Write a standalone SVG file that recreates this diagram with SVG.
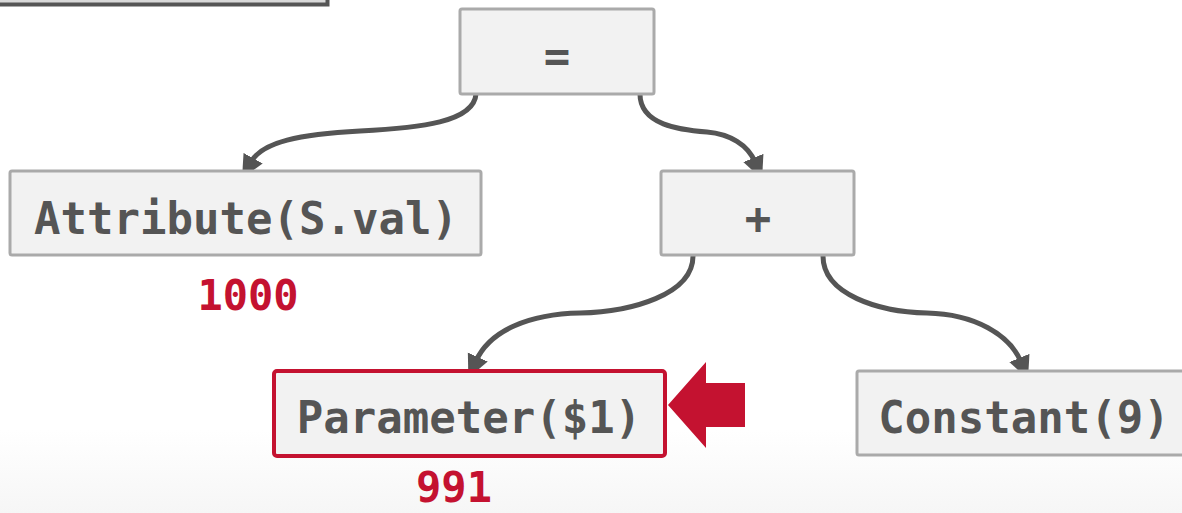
<svg xmlns="http://www.w3.org/2000/svg" width="1182" height="513" viewBox="0 0 1182 513">
  <defs>
    <linearGradient id="bg" x1="0" y1="0" x2="0" y2="1">
      <stop offset="0" stop-color="#ffffff"/>
      <stop offset="1" stop-color="#f6f6f6"/>
    </linearGradient>
    <marker id="ah" markerUnits="userSpaceOnUse" markerWidth="24" markerHeight="24" refX="4" refY="10" orient="auto" viewBox="0 0 22 20">
      <path d="M0,0 L21,10 L0,20 z" fill="#555"/>
    </marker>
    <style>
      .box { fill: #f2f2f2; stroke: #aaaaaa; stroke-width: 3; }
      .hl { fill: #f2f2f2; stroke: #c41230; stroke-width: 4; }
      .lbl { font-family: "DejaVu Sans Mono", "Liberation Mono", monospace; font-size: 44px; font-weight: bold; fill: #555; text-anchor: middle; }
      .val { font-family: "DejaVu Sans Mono", "Liberation Mono", monospace; font-size: 42px; font-weight: bold; fill: #c41230; text-anchor: middle; }
      .edge { fill: none; stroke: #555; stroke-width: 5; marker-end: url(#ah); }
    </style>
  </defs>
  <rect x="0" y="0" width="1182" height="513" fill="#ffffff"/>
  <rect x="0" y="430" width="1182" height="83" fill="url(#bg)"/>

  <rect x="-10" y="-50" width="337.5" height="54.5" fill="#d9d9d9" stroke="#555" stroke-width="4"/>

  <g id="connectors">
    <path class="edge" d="M476,94 C474,122 420,128 360,131 C300,134 262,142 251,162"/>
    <path class="edge" d="M640,94 C640,125 680,130 707,132 C730,134 748,145 755,162"/>
    <path class="edge" d="M693,255 C694,295 630,312 580,313 C530,314 490,330 476,361"/>
    <path class="edge" d="M823,255 C822,295 880,312 927,313 C975,314 1010,335 1021,362"/>
  </g>

  <g id="node-eq">
    <rect class="box" x="460" y="9" width="194" height="85" rx="2"/>
    <text class="lbl" x="557" y="71">=</text>
  </g>
  <g id="node-attr">
    <rect class="box" x="10" y="171" width="471" height="84" rx="2"/>
    <text class="lbl" x="246" y="234">Attribute(S.val)</text>
  </g>
  <text class="val" x="248" y="310">1000</text>
  <g id="node-plus">
    <rect class="box" x="661" y="171" width="193" height="84" rx="2"/>
    <text class="lbl" x="758" y="234">+</text>
  </g>
  <g id="node-param">
    <rect class="hl" x="274" y="371" width="391" height="85" rx="3"/>
    <text class="lbl" x="469" y="433">Parameter($1)</text>
  </g>
  <text class="val" x="454" y="502">991</text>
  <g id="node-const">
    <rect class="box" x="857" y="371" width="340" height="84" rx="2"/>
    <text class="lbl" x="1024" y="433">Constant(9)</text>
  </g>
  <g id="pointer">
    <polygon points="668,405 706,362 706,383 745,383 745,427 706,427 706,448" fill="#c41230"/>
  </g>
</svg>
